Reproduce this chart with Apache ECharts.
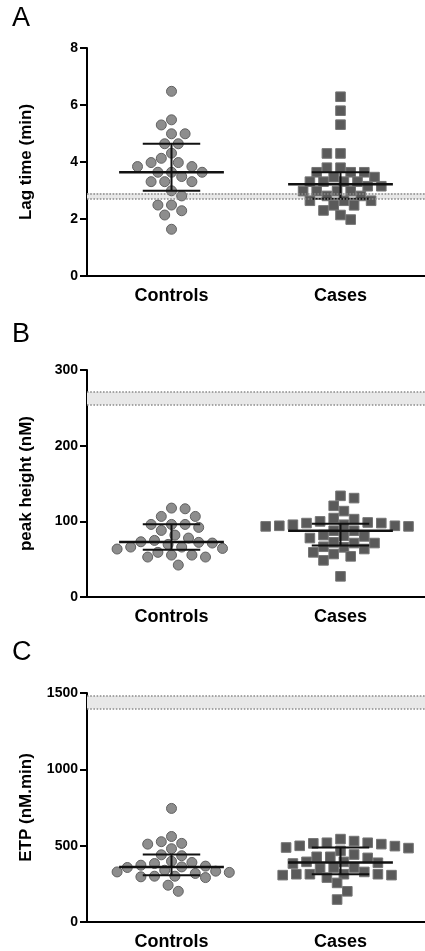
<!DOCTYPE html>
<html><head><meta charset="utf-8">
<script src="https://cdn.jsdelivr.net/npm/echarts@6/dist/echarts.min.js"></script>
<style>html,body{margin:0;padding:0;background:#fff}#chart{width:425px;height:951px}</style>
</head><body><div id="chart"></div>
<script>
// ---------- data ----------
const categories = ['Controls', 'Cases'];
const panelLetters = ['A', 'B', 'C'];
const yAxisNames = ['Lag time (min)', 'peak height (nM)', 'ETP (nM.min)'];
const yMax = [8, 300, 1500];
const yInterval = [2, 100, 500];

const lagControls = [6.48, 5.48, 5.30, 4.99, 4.99, 4.64, 4.64, 4.31, 4.13, 3.98, 3.98, 3.84, 3.84,
  3.64, 3.64, 3.64, 3.49, 3.31, 3.31, 3.31, 2.99, 2.81, 2.49, 2.49, 2.29, 2.14, 1.64];
const lagCases = [6.29, 5.80, 5.31, 4.30, 4.30, 3.80, 3.80, 3.64, 3.64, 3.64, 3.47, 3.47, 3.31, 3.31,
  3.31, 3.31, 3.15, 3.15, 2.98, 2.98, 2.98, 2.98, 2.81, 2.81, 2.64, 2.64, 2.64, 2.48, 2.48, 2.30, 2.14, 1.98];

const peakControls = [117.5, 116.6, 106.5, 106.5, 95.9, 95.9, 95.9, 92, 88, 81.8, 77.9, 74.8, 73, 72.2,
  71.3, 69.5, 66, 66, 64.2, 63.4, 59, 55.4, 55.4, 52.8, 52.8, 42.2];
const peakCases = [133.7, 130.7, 120.5, 113.5, 104.3, 102.9, 99.9, 98.5, 97.7, 97.7, 95.5, 95.5, 94.1,
  94.1, 93.3, 93.3, 87.6, 87.6, 81.8, 80.9, 80.1, 77.9, 72.2, 71.3, 71.3, 66.4, 65.6, 63.4, 59, 56.8,
  53.7, 48.4, 27.3];

const etpControls = [744, 560, 515, 510, 526, 480, 440, 434, 398, 390, 383, 372, 366, 361, 357, 339,
  333, 328, 325, 318, 300, 300, 296, 291, 241, 201];
const etpCases = [543, 530, 519, 519, 515, 510, 499, 497, 488, 484, 466, 442, 427, 427, 420, 394, 394,
  388, 383, 357, 357, 350, 328, 313, 313, 313, 313, 307, 307, 291, 256, 201, 147];

const medianControls = [3.64, 72.6, 361];
const q1Controls = [2.99, 62.5, 307];
const q3Controls = [4.64, 96.3, 442];
const medianCases = [3.22, 87.6, 390];
const q1Cases = [2.71, 68.2, 313];
const q3Cases = [3.64, 96.8, 488];

const refBandLow = [2.70, 254, 1397];
const refBandHigh = [2.90, 271, 1480];

const controlsByPanel = [lagControls, peakControls, etpControls];
const casesByPanel = [lagCases, peakCases, etpCases];

// ---------- layout ----------
const gridTops = [48, 370, 693];
const gridHeights = [228, 227, 229];
const letterTops = [5, 321, 639];
const FONT = '"Liberation Sans", Arial, sans-serif';

function beeswarm(ys, diam, step) {
  const n = ys.length;
  const idx = ys.map((_, i) => i).sort((a, b) => ys[a] - ys[b]);
  const xs = new Array(n);
  const placed = [];
  idx.forEach((i, order) => {
    for (let k = 0; k < 200; k++) {
      const cands = k === 0 ? [0] : (order % 2 ? [k * step, -k * step] : [-k * step, k * step]);
      let found = null;
      for (const c of cands) {
        if (placed.every(p => (p.x - c) * (p.x - c) + (p.y - ys[i]) * (p.y - ys[i]) >= diam * diam)) { found = c; break; }
      }
      if (found !== null) { xs[i] = found; placed.push({ x: found, y: ys[i] }); return; }
    }
    xs[i] = 0;
  });
  return xs;
}

const layoutCache = {};
function makePointRender(values, cat, shape) {
  return function (params, api) {
    const key = params.seriesIndex;
    if (!layoutCache[key] || params.dataIndexInside === 0) {
      const ys = values.map(v => api.coord([cat, v])[1]);
      layoutCache[key] = beeswarm(ys, 11, 3.4);
    }
    const pt = api.coord([cat, api.value(1)]);
    const cx = pt[0] + layoutCache[key][params.dataIndex];
    const cy = pt[1];
    if (shape === 'circle') {
      return { type: 'circle', shape: { cx: cx, cy: cy, r: 5 },
        style: { fill: '#8d8d8d', stroke: '#626262', lineWidth: 1 } };
    }
    return { type: 'rect', shape: { x: cx - 4.8, y: cy - 4.8, width: 9.6, height: 9.6 },
      style: { fill: '#5a5a5a', stroke: '#747474', lineWidth: 1 } };
  };
}

function statsRender(params, api) {
  const cat = api.value(0);
  const med = api.coord([cat, api.value(1)]);
  const lo = api.coord([cat, api.value(2)]);
  const hi = api.coord([cat, api.value(3)]);
  const band = api.size([1, 0])[0];
  const mh = band * 0.31, ch = band * 0.17;
  const st = { stroke: '#111', lineWidth: 2 };
  return { type: 'group', children: [
    { type: 'line', shape: { x1: med[0] - mh, y1: med[1], x2: med[0] + mh, y2: med[1] }, style: { stroke: '#111', lineWidth: 2.5 } },
    { type: 'line', shape: { x1: lo[0], y1: lo[1], x2: hi[0], y2: hi[1] }, style: st },
    { type: 'line', shape: { x1: lo[0] - ch, y1: lo[1], x2: lo[0] + ch, y2: lo[1] }, style: st },
    { type: 'line', shape: { x1: hi[0] - ch, y1: hi[1], x2: hi[0] + ch, y2: hi[1] }, style: st }
  ] };
}

const grids = [], xAxes = [], yAxes = [], series = [], graphics = [];
for (let p = 0; p < 3; p++) {
  grids.push({ left: 87, top: gridTops[p], height: gridHeights[p], width: 342 });
  xAxes.push({
    type: 'category', gridIndex: p, data: categories, boundaryGap: true,
    axisLine: { lineStyle: { color: '#000', width: 2 } },
    axisTick: { alignWithLabel: true, length: 5, lineStyle: { color: '#000', width: 2 } },
    axisLabel: { color: '#000', fontFamily: FONT, fontWeight: 'bold', fontSize: 18, margin: 11 }
  });
  yAxes.push({
    type: 'value', gridIndex: p, min: 0, max: yMax[p], interval: yInterval[p],
    name: yAxisNames[p], nameLocation: 'middle', nameGap: 52,
    nameTextStyle: { color: '#000', fontFamily: FONT, fontWeight: 'bold', fontSize: 17 },
    axisLine: { show: true, lineStyle: { color: '#000', width: 2 } },
    axisTick: { show: true, length: 7, lineStyle: { color: '#000', width: 2 } },
    axisLabel: { color: '#000', fontFamily: FONT, fontWeight: 'bold', fontSize: 14, margin: 9,
      formatter: v => String(v) },
    splitLine: { show: false }
  });
  // reference band
  series.push({
    type: 'line', xAxisIndex: p, yAxisIndex: p, data: [], z: 1, silent: true,
    markArea: { silent: true, itemStyle: { color: '#e8e8e8' },
      data: [[{ yAxis: refBandLow[p] }, { yAxis: refBandHigh[p] }]] },
    markLine: { silent: true, symbol: 'none', label: { show: false },
      lineStyle: { type: 'dotted', color: '#8a8a8a', width: 1.6 },
      data: [{ yAxis: refBandLow[p] }, { yAxis: refBandHigh[p] }] }
  });
  const ctrl = controlsByPanel[p], cases = casesByPanel[p];
  series.push({ type: 'custom', xAxisIndex: p, yAxisIndex: p, z: 3,
    data: ctrl.map(v => [0, v]), renderItem: makePointRender(ctrl, 0, 'circle') });
  series.push({ type: 'custom', xAxisIndex: p, yAxisIndex: p, z: 3,
    data: cases.map(v => [1, v]), renderItem: makePointRender(cases, 1, 'square') });
  series.push({ type: 'custom', xAxisIndex: p, yAxisIndex: p, z: 4,
    data: [[0, medianControls[p], q1Controls[p], q3Controls[p]], [1, medianCases[p], q1Cases[p], q3Cases[p]]],
    renderItem: statsRender });
  graphics.push({ type: 'text', left: 12, top: letterTops[p],
    style: { text: panelLetters[p], fill: '#000', font: '27px ' + FONT } });
}

const chart = echarts.init(document.getElementById('chart'), null, { renderer: 'canvas' });
chart.setOption({
  animation: false,
  backgroundColor: '#fff',
  grid: grids, xAxis: xAxes, yAxis: yAxes, series: series, graphic: graphics
});
</script></body></html>
